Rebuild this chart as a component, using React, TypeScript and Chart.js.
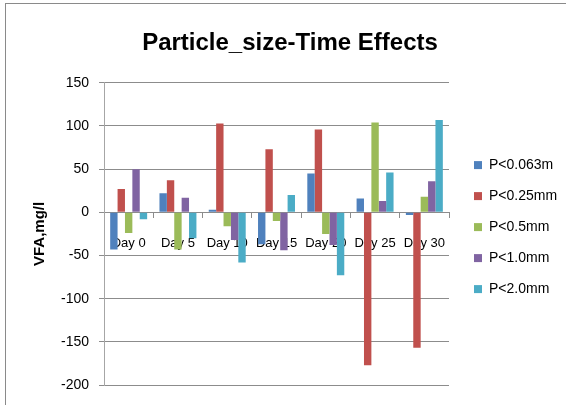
import React, { useEffect, useRef } from "react";
import { Chart, registerables } from "chart.js";

Chart.register(...registerables);

const categories = ["Day 0", "Day 5", "Day 10", "Day 15", "Day 20", "Day 25", "Day 30"];
const seriesNames = ["P<0.063m", "P<0.25mm", "P<0.5mm", "P<1.0mm", "P<2.0mm"];
const p0063 = [-43, 22, 3, -37, 45, 16, -3];
const p025 = [27, 37, 103, 73, 96, -177, -157];
const p05 = [-24, -43, -16, -10, -25, 104, 18];
const p10 = [50, 17, -32, -44, -38, 13, 36];
const p20 = [-8, -30, -58, 20, -73, 46, 107];
const yMin = -200;
const yMax = 150;
const yStep = 50;
const seriesColors = ["#4F81BD", "#C0504D", "#9BBB59", "#8064A2", "#4BACC6"];

const SANS = "'Liberation Sans', Arial, sans-serif";

export default function App() {
  const ref = useRef<HTMLCanvasElement | null>(null);

  useEffect(() => {
    document.body.style.margin = "0";
    const values = [p0063, p025, p05, p10, p20];
    const chart = new Chart(ref.current as HTMLCanvasElement, {
      type: "bar",
      data: {
        labels: categories,
        datasets: seriesNames.map((name, i) => ({
          label: name,
          data: values[i],
          backgroundColor: seriesColors[i],
          borderColor: seriesColors[i],
          borderWidth: 0,
          barPercentage: 1,
          categoryPercentage: 0.75,
        })),
      },
      options: {
        responsive: false,
        animation: false,
        layout: { padding: { left: 14, right: 0, top: 8, bottom: 20 } },
        plugins: {
          title: {
            display: true,
            text: "Particle_size-Time Effects",
            color: "#000",
            font: { family: SANS, size: 24, weight: "bold" },
            padding: { top: 21, bottom: 25 },
          },
          legend: {
            position: "right",
            maxWidth: 109,
            title: {
              display: true,
              text: "",
              font: { size: 1 },
              padding: { top: 60, bottom: 0 },
            },
            labels: {
              boxWidth: 8,
              boxHeight: 8,
              padding: 17,
              color: "#000",
              font: { family: SANS, size: 14 },
            },
          },
          tooltip: { enabled: false },
        },
        scales: {
          x: {
            position: { y: 0 },
            grid: {
              display: true,
              drawOnChartArea: false,
              drawTicks: true,
              tickLength: 5,
              offset: true,
              color: "#8c8c8c",
            },
            border: { color: "#8c8c8c" },
            ticks: {
              padding: 18,
              color: "#000",
              maxRotation: 0,
              autoSkip: false,
              font: { family: SANS, size: 13 },
            },
          },
          y: {
            min: yMin,
            max: yMax,
            ticks: {
              stepSize: yStep,
              color: "#000",
              padding: 10,
              font: { family: SANS, size: 14 },
            },
            grid: { color: "#8c8c8c", tickLength: 5 },
            border: { color: "#a6a6a6" },
            title: {
              display: true,
              text: "VFA,mg/l",
              color: "#000",
              font: { family: SANS, size: 15, weight: "bold" },
              padding: { top: 17, bottom: 2 },
            },
          },
          yGap: {
            type: "linear",
            position: "right",
            display: true,
            min: yMin,
            max: yMax,
            grid: { display: false, drawTicks: false },
            border: { display: false },
            ticks: { display: false },
            afterFit: (s: any) => {
              s.width = 8;
            },
          },
        },
      },
    });
    return () => chart.destroy();
  }, []);

  return (
    <div style={{ position: "fixed", left: 0, top: 0, width: 566, height: 405, background: "#fff", overflow: "hidden" }}>
      <div
        style={{
          position: "absolute",
          left: 5,
          top: 3,
          width: 600,
          height: 450,
          borderTop: "1px solid #8a8a8a",
          borderLeft: "1px solid #8a8a8a",
        }}
      />
      <canvas ref={ref} width={566} height={405} style={{ position: "absolute", left: 0, top: 0 }} />
    </div>
  );
}
